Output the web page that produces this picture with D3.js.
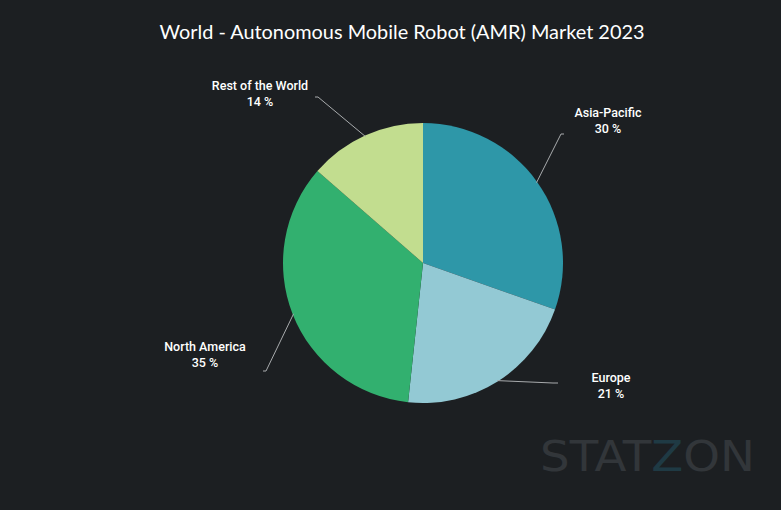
<!DOCTYPE html>
<html>
<head>
<meta charset="utf-8">
<script src="https://cdn.jsdelivr.net/npm/d3@7"></script>
<style>
  html, body { margin: 0; padding: 0; background: #1c1f22; }
  svg { display: block; }
</style>
</head>
<body>
<svg id="chart" width="781" height="510"></svg>
<script>
// ---- data ----
const categories = ["Asia-Pacific", "Europe", "North America", "Rest of the World"];
const values = [30.4, 21.3, 34.7, 13.6];
const colors = ["#2e97a8", "#93c9d4", "#32b06f", "#c2dd8f"];
const titleText = "World - Autonomous Mobile Robot (AMR) Market 2023";

// ---- layout (label placement, not data) ----
const labelLayout = {
  "Asia-Pacific":      { elbow: [561, 134], end: [564, 134], text: [608, 117] },
  "Europe":            { elbow: [553, 383], end: [558, 383], text: [611, 382] },
  "North America":     { elbow: [266, 371], end: [263, 371], text: [205, 351] },
  "Rest of the World": { elbow: [318, 97],  end: [315, 97],  text: [260, 90] }
};

const W = 781, H = 510;
const cx = 423, cy = 263, R = 140;
const svg = d3.select("#chart");

svg.append("rect").attr("width", W).attr("height", H).attr("fill", "#1c1f22");

// title
svg.append("text")
  .attr("x", 402).attr("y", 39)
  .attr("text-anchor", "middle")
  .attr("fill", "#ffffff")
  .attr("font-family", "Lato, 'Open Sans', sans-serif")
  .attr("font-size", 20)
  .attr("textLength", 485)
  .attr("lengthAdjust", "spacingAndGlyphs")
  .text(titleText);

// watermark
const wm = svg.append("text")
  .attr("x", 540).attr("y", 471)
  .attr("font-family", "'DejaVu Sans', sans-serif")
  .attr("font-size", 42)
  .attr("font-weight", "normal")
  .attr("textLength", 215)
  .attr("lengthAdjust", "spacingAndGlyphs")
  .attr("fill", "#32363a");
wm.append("tspan").text("STAT");
wm.append("tspan").attr("fill", "#1f3a44").text("Z");
wm.append("tspan").text("ON");

const fmt = d3.format(".0f");
const color = d3.scaleOrdinal().domain(categories).range(colors);
const pie = d3.pie().sort(null).value(d => d.value);
const data = categories.map((c, i) => ({ name: c, value: values[i] }));
const arcs = pie(data);
const arc = d3.arc().innerRadius(0).outerRadius(R);

const g = svg.append("g").attr("transform", `translate(${cx},${cy})`);
g.selectAll("path")
  .data(arcs)
  .join("path")
  .attr("d", arc)
  .attr("fill", d => color(d.data.name));

// connectors and labels
arcs.forEach(d => {
  const L = labelLayout[d.data.name];
  const m = (d.startAngle + d.endAngle) / 2;
  const p0 = [cx + (R - 1) * Math.sin(m), cy - (R - 1) * Math.cos(m)];
  svg.append("path")
    .attr("d", d3.line()([p0, L.elbow, L.end]))
    .attr("fill", "none")
    .attr("stroke", "#a8abad")
    .attr("stroke-width", 1);
  const t = svg.append("text")
    .attr("x", L.text[0]).attr("y", L.text[1])
    .attr("text-anchor", "middle")
    .attr("fill", "#ffffff")
    .attr("font-family", "Roboto, sans-serif")
    .attr("font-weight", 500)
    .attr("font-size", 12.5);
  t.append("tspan").attr("x", L.text[0]).text(d.data.name);
  t.append("tspan").attr("x", L.text[0]).attr("dy", 16).text(fmt(d.data.value) + " %");
});
</script>
</body>
</html>
